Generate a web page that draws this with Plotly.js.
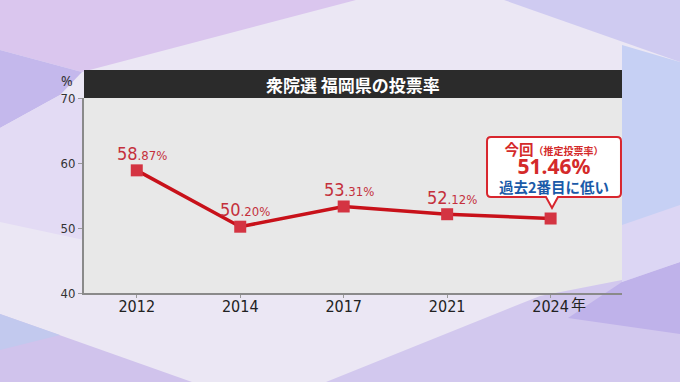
<!DOCTYPE html>
<html><head><meta charset="utf-8">
<script src="https://cdn.plot.ly/plotly-3.0.1.min.js"></script>
<style>html,body{margin:0;padding:0;background:#ebe7f4;}#c{width:680px;height:382px;}</style>
</head><body><div id="c"></div>
<script>
const years = ['2012','2014','2017','2021','2024'];
const turnout = [58.87, 50.20, 53.31, 52.12, 51.46];
const yTicks = [40, 50, 60, 70];
const titleText = '衆院選 福岡県の投票率';
const calloutLine1 = '今回';
const calloutLine1b = '（推定投票率）';
const calloutLine3 = '過去2番目に低い';

const W = 680, H = 382;
const L = 84, R = 622, T = 98, B = 293;
const px = x => (x - L) / (R - L);
const py = y => (B - y) / (B - T);
function poly(pts, fill) {
  const d = pts.map((p, i) => (i ? 'L' : 'M') + px(p[0]).toFixed(4) + ',' + py(p[1]).toFixed(4)).join(' ') + ' Z';
  return {type:'path', xref:'paper', yref:'paper', path:d, fillcolor:fill, line:{width:0}, layer:'below'};
}
const shapes = [
  poly([[0,0],[356,0],[82,72],[0,50]], '#dac6ee'),
  poly([[0,50],[82,72],[60,95],[0,128]], '#c4b8ec'),
  poly([[0,128],[60,95],[84,100],[84,240],[0,222]], '#e3dbf4'),
  poly([[504,0],[680,0],[680,62]], '#cfcbf1'),
  poly([[622,45],[680,62],[680,210],[622,230]], '#c6d0f4'),
  poly([[0,314],[192,382],[0,382]], '#d0c3ec'),
  poly([[0,314],[60,335],[0,350]], '#c2c9ee'),
  poly([[540,296],[622,280],[680,262],[680,382],[326,382]], '#d2c8ee'),
  poly([[568,318],[680,334],[680,262],[622,282]], '#bfb2ea'),
  poly([[622,225],[680,205],[680,262],[622,282]], '#dcd6f4'),
  {type:'rect', xref:'paper', yref:'paper', x0:px(84), x1:px(622), y0:py(98), y1:py(70), fillcolor:'#2b2b2b', line:{width:0}},
];
(function(){
  const x0=487,x1=621,y0=137,y1=197,r=4,tx=552,ty=208,hw=6;
  const P=(x,y)=>px(x).toFixed(4)+','+py(y).toFixed(4);
  const d='M'+P(x0+r,y0)+' L'+P(x1-r,y0)+' Q'+P(x1,y0)+' '+P(x1,y0+r)+' L'+P(x1,y1-r)+' Q'+P(x1,y1)+' '+P(x1-r,y1)+
    ' L'+P(tx+hw,y1)+' L'+P(tx,ty)+' L'+P(tx-hw,y1)+' L'+P(x0+r,y1)+' Q'+P(x0,y1)+' '+P(x0,y1-r)+' L'+P(x0,y0+r)+' Q'+P(x0,y0)+' '+P(x0+r,y0)+' Z';
  shapes.push({type:'path',xref:'paper',yref:'paper',path:d,fillcolor:'#ffffff',line:{color:'#d8262e',width:2}});
})();

const numFont = "'Liberation Sans Narrow', 'DejaVu Sans Condensed', 'Roboto', sans-serif";
const jpFont = "'Noto Sans CJK JP', sans-serif";
const annotations = [];
turnout.forEach((v, i) => {
  if (i === turnout.length - 1) return;
  const parts = v.toFixed(2).split('.');
  annotations.push({x: i, y: v, xref:'x', yref:'y', showarrow:false, yshift:17, xshift:5,
    xanchor:'center', yanchor:'middle',
    text: parts[0] + '<span style="font-size:13px">.' + parts[1] + '%</span>',
    font:{family:numFont, size:18, color:'#c4303c'}});
});
function pa(x, y, text, font, xa) {
  return {xref:'paper', yref:'paper', x:px(x), y:py(y), text:text, showarrow:false,
    xanchor: xa || 'center', yanchor:'middle', font:font};
}
const calloutText =
  '<b>' + calloutLine1 + '<span style="font-size:10px">' + calloutLine1b + '</span></b><br>' +
  '<span style="font-size:21px;font-family:\'Noto Sans\', sans-serif"><b>' + turnout[turnout.length-1].toFixed(2) + '%</b></span><br>' +
  '<span style="color:#1a5aa8"><b>' + calloutLine3 + '</b></span>';
annotations.push(
  pa(353, 84, '<b>'+titleText+'</b>', {family:jpFont, size:17, color:'#ffffff'}),
  pa(67, 80, '%', {family:"'Noto Sans', sans-serif", size:14, color:'#333'}),
  pa(569, 303, '年', {family:jpFont, size:15, color:'#222'}, 'left'),
  pa(554, 167, calloutText, {family:jpFont, size:14.5, color:'#d42a2a'})
);

const trace = {
  x: years, y: turnout, type:'scatter', mode:'lines+markers',
  line:{color:'#c8111a', width:3.5},
  marker:{symbol:'square', size:12, color:'#d43442', line:{width:0}},
  hoverinfo:'skip', cliponaxis:false
};
const layout = {
  width:W, height:H, margin:{l:L, r:W-R, t:T, b:H-B},
  paper_bgcolor:'rgba(0,0,0,0)', plot_bgcolor:'#e8e8e8',
  showlegend:false,
  xaxis:{type:'category', range:[-0.51, 4.69], showgrid:false, zeroline:false,
    showline:true, linecolor:'#8a8a8a', linewidth:2, ticks:'outside', ticklen:3, tickcolor:'#999',
    ticklabelstandoff:-5,
    tickfont:{family:numFont, size:16, color:'#222'}, fixedrange:true},
  yaxis:{range:[40,70], tickvals:yTicks, showgrid:false, zeroline:false,
    showline:true, linecolor:'#8a8a8a', linewidth:2, ticks:'outside', ticklen:4, tickcolor:'#999',
    tickfont:{family:numFont, size:13, color:'#333'}, fixedrange:true},
  shapes: shapes, annotations: annotations
};
Plotly.newPlot('c', [trace], layout, {staticPlot:true, displayModeBar:false});
</script></body></html>
